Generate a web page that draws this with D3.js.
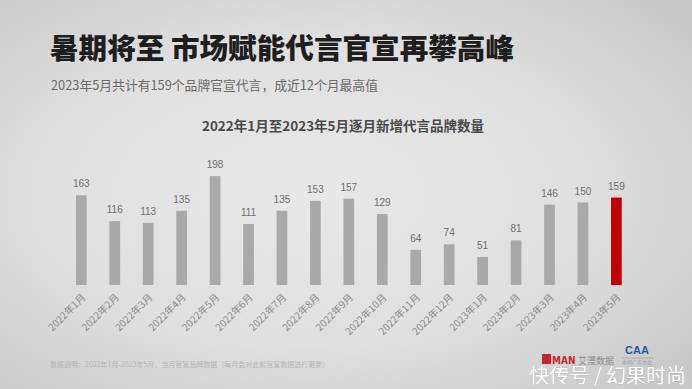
<!DOCTYPE html>
<html>
<head>
<meta charset="utf-8">
<script src="https://cdn.jsdelivr.net/npm/d3@7"></script>
<style>
  html, body { margin: 0; padding: 0; }
  body { width: 692px; height: 389px; overflow: hidden; }
  svg { display: block; font-family: "Noto Sans CJK SC", "Noto Sans", sans-serif; }
</style>
</head>
<body>
<div id="chart"></div>
<script>
var months = ["2022年1月", "2022年2月", "2022年3月", "2022年4月", "2022年5月", "2022年6月",
              "2022年7月", "2022年8月", "2022年9月", "2022年10月", "2022年11月", "2022年12月",
              "2023年1月", "2023年2月", "2023年3月", "2023年4月", "2023年5月"];
var brandCounts = [163, 116, 113, 135, 198, 111, 135, 153, 157, 129, 64, 74, 51, 81, 146, 150, 159];
var highlightMonth = "2023年5月";

var titleText = "暑期将至 市场赋能代言官宣再攀高峰";
var subtitleText = "2023年5月共计有159个品牌官宣代言，成近12个月最高值";
var chartTitleText = "2022年1月至2023年5月逐月新增代言品牌数量";
var noteText = "数据说明：2022年1月-2023年5月，当月官宣品牌数据（每月会对此前官宣数据进行更新）";

var width = 692, height = 389;

var svg = d3.select("#chart").append("svg")
    .attr("width", width)
    .attr("height", height);

// background, lighter in the middle
var defs = svg.append("defs");
var grad = defs.append("radialGradient")
    .attr("id", "bg")
    .attr("cx", "45%").attr("cy", "50%").attr("r", "70%");
grad.append("stop").attr("offset", "0%").attr("stop-color", "#e8e8e8");
grad.append("stop").attr("offset", "55%").attr("stop-color", "#e0e0e0");
grad.append("stop").attr("offset", "100%").attr("stop-color", "#c9c9c9");
svg.append("rect")
    .attr("width", width).attr("height", height)
    .attr("fill", "url(#bg)");

// headings
svg.append("text")
    .attr("x", 50).attr("y", 59)
    .attr("font-size", 28.6).attr("font-weight", 900)
    .attr("fill", "#1e1e1e")
    .text(titleText);

svg.append("text")
    .attr("x", 51).attr("y", 90)
    .attr("font-size", 12.8)
    .attr("fill", "#6a6a6a")
    .text(subtitleText);

svg.append("text")
    .attr("x", 343).attr("y", 131)
    .attr("text-anchor", "middle")
    .attr("font-size", 13.5).attr("font-weight", 700)
    .attr("fill", "#4a4a4a")
    .text(chartTitleText);

// scales
var x = d3.scaleBand()
    .domain(months)
    .range([64.6, 633.1])
    .paddingInner(0.68)
    .paddingOuter(0.34);

var y = d3.scaleLinear()
    .domain([0, 200])
    .range([285, 175]);

var g = svg.append("g");

g.selectAll("rect.bar")
    .data(months)
    .enter().append("rect")
    .attr("class", "bar")
    .attr("x", function (d) { return x(d); })
    .attr("width", x.bandwidth())
    .attr("y", function (d, i) { return y(brandCounts[i]); })
    .attr("height", function (d, i) { return y(0) - y(brandCounts[i]); })
    .attr("fill", function (d) { return d == highlightMonth ? "#c00000" : "#a9a9a9"; });

g.selectAll("text.val")
    .data(months)
    .enter().append("text")
    .attr("class", "val")
    .attr("x", function (d) { return x(d) + x.bandwidth() / 2; })
    .attr("y", function (d, i) { return y(brandCounts[i]) - 8; })
    .attr("text-anchor", "middle")
    .attr("font-size", 10)
    .attr("font-family", "'Liberation Sans', sans-serif")
    .attr("fill", "#6e6e6e")
    .text(function (d, i) { return brandCounts[i]; });

// x axis labels, rotated
var xAxis = g.append("g")
    .attr("transform", "translate(0,285)")
    .call(d3.axisBottom(x).tickSize(0).tickPadding(0));
xAxis.select(".domain").remove();
xAxis.selectAll("text")
    .attr("font-size", 10)
    .attr("font-family", "'Noto Sans CJK SC', sans-serif")
    .attr("fill", "#8a8a8a")
    .attr("text-anchor", "end")
    .attr("dy", null)
    .attr("y", 0)
    .attr("transform", "translate(5,13) rotate(-45)");

// footer note
svg.append("text")
    .attr("x", 50).attr("y", 367)
    .attr("font-size", 7)
    .attr("fill", "#b4b4b4")
    .text(noteText);

// logos
var logo = svg.append("g").attr("transform", "translate(542,354)");
logo.append("rect").attr("x", 0).attr("y", 0).attr("width", 9).attr("height", 10).attr("fill", "#c4262e");
logo.append("text").attr("x", 10).attr("y", 9.5)
    .attr("font-size", 10).attr("font-weight", 900)
    .attr("font-family", "'DejaVu Sans Condensed', sans-serif")
    .attr("fill", "#c4262e").text("MAN");
logo.append("text").attr("x", 36).attr("y", 9.5)
    .attr("font-size", 9).attr("fill", "#8c8c8c").text("艾漫数据");

var caa = svg.append("g").attr("transform", "translate(624,344)");
caa.append("text").attr("x", 13).attr("y", 10)
    .attr("text-anchor", "middle")
    .attr("font-size", 11).attr("font-weight", 900)
    .attr("font-family", "'Liberation Sans', sans-serif")
    .attr("fill", "#1f5aa0").text("CAA");
caa.append("line").attr("x1", -2).attr("x2", 30).attr("y1", 14).attr("y2", 14)
    .attr("stroke", "#9a9a9a").attr("stroke-width", 0.6);
caa.append("text").attr("x", -2).attr("y", 20)
    .attr("font-size", 5).attr("fill", "#9a9a9a").text("中国广告协会");

// watermark
svg.append("text")
    .attr("x", 686).attr("y", 383)
    .attr("text-anchor", "end")
    .attr("font-size", 20)
    .attr("fill", "#ffffff")
    .attr("stroke", "rgba(0,0,0,0.12)")
    .attr("stroke-width", 1)
    .attr("paint-order", "stroke")
    .text("快传号 / 幻果时尚");
</script>
</body>
</html>
